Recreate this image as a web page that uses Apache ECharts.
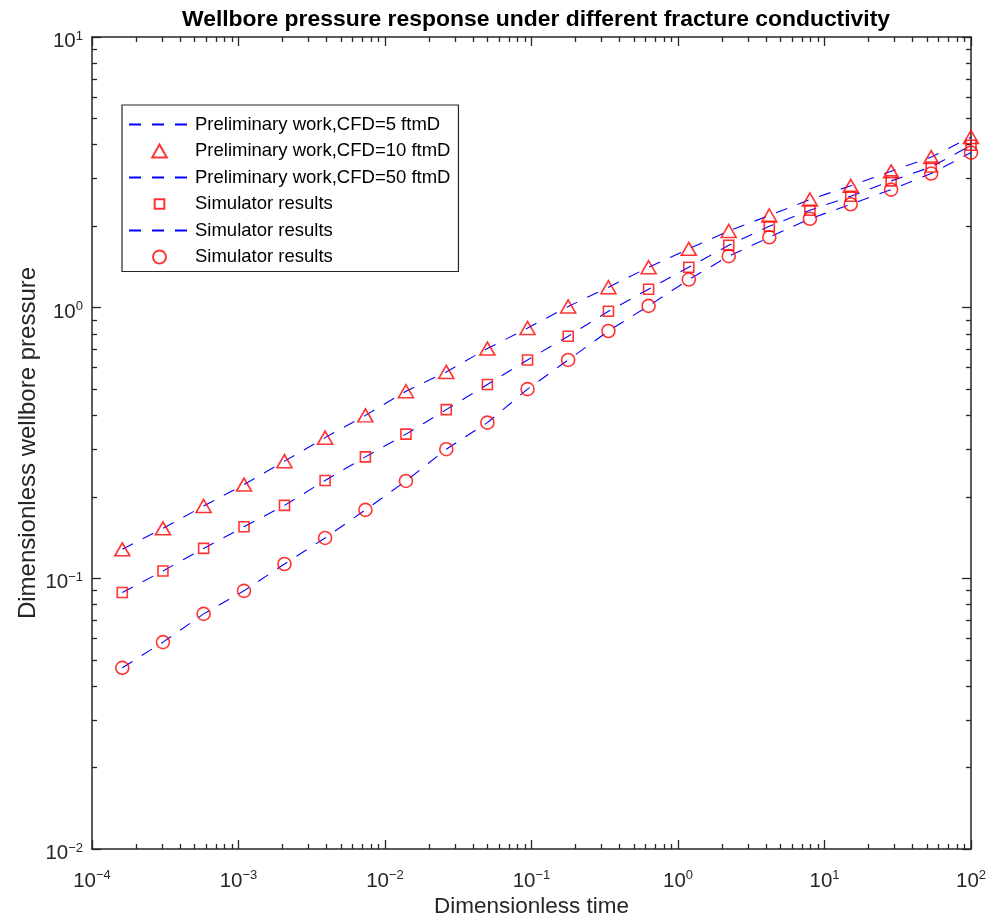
<!DOCTYPE html>
<html lang="en">
<head>
    <meta charset="UTF-8">
    <title>Wellbore pressure response</title>
    <script src="https://cdn.jsdelivr.net/npm/echarts@6/dist/echarts.min.js"></script>
    <style>
        html, body { margin: 0; padding: 0; background: #fff; }
        #chart { width: 989px; height: 919px; }
    </style>
</head>
<body>
    <div id="chart"></div>
    <script>
        // dimensionless time (shared by all curves)
        var timeValues = [1.61e-4, 3.05e-4, 5.78e-4, 1.09e-3, 2.06e-3, 3.9e-3, 7.35e-3, 0.0139, 0.0262, 0.0500, 0.0940,
            0.178, 0.335, 0.630, 1.185, 2.22, 4.20, 7.95, 15.1, 28.5, 53.5, 100];
        // dimensionless wellbore pressure
        var pressTri = [0.128, 0.153, 0.185, 0.222, 0.271, 0.331, 0.400, 0.491, 0.579, 0.706, 0.841,
            1.01, 1.19, 1.41, 1.65, 1.92, 2.19, 2.51, 2.82, 3.19, 3.60, 4.27];
        var pressSq = [0.0886, 0.1065, 0.129, 0.155, 0.186, 0.230, 0.281, 0.341, 0.420, 0.520, 0.641,
            0.784, 0.970, 1.17, 1.41, 1.70, 2.00, 2.29, 2.58, 2.94, 3.31, 3.98];
        var pressCirc = [0.0467, 0.0581, 0.0739, 0.0899, 0.113, 0.141, 0.179, 0.229, 0.300, 0.376, 0.500,
            0.641, 0.820, 1.015, 1.27, 1.55, 1.82, 2.13, 2.41, 2.73, 3.13, 3.74];

        var legendNames = {
            l1: 'Preliminary work,CFD=5 ftmD',
            m1: 'Preliminary work,CFD=10 ftmD',
            l2: 'Preliminary work,CFD=50 ftmD',
            m2: 'Simulator results',
            l3: 'Simulator results',
            m3: 'Simulator results'
        };

        var xMinor = [];
        var yMinor = [];
        for (var e = -4; e < 2; e++) {
            for (var k = 2; k <= 9; k++) xMinor.push(k * Math.pow(10, e));
        }
        for (var e = -2; e < 1; e++) {
            for (var k = 2; k <= 9; k++) yMinor.push(k * Math.pow(10, e));
        }

        var font = "'Liberation Sans', Arial, sans-serif";
        var axisColor = '#262626';

        function pairs(ys) {
            return timeValues.map(function (t, i) { return [t, ys[i]]; });
        }

        function supLabel(v) {
            var p = Math.round(Math.log10(v));
            return '{b|10}{s|' + (p < 0 ? '\u2212' + (-p) : p) + '}';
        }

        var richSup = {
            b: { fontSize: 20.5, lineHeight: 24, fontFamily: font, color: axisColor },
            s: { fontSize: 13, lineHeight: 13, verticalAlign: 'top', fontFamily: font, color: axisColor }
        };

        function makeAxis(pos, kind, min, max, minorVals) {
            var ax = {
                type: 'log',
                logBase: 10,
                min: min,
                max: max,
                position: pos,
                splitLine: { show: false },
                axisLine: { show: kind === 'major', lineStyle: { color: axisColor, width: 1.5 } },
                axisTick: { show: true, inside: true, length: kind === 'major' ? 9 : 5,
                    lineStyle: { color: axisColor, width: 1.3 } },
                axisLabel: { show: false }
            };
            if (kind === 'minor') ax.axisTick.customValues = minorVals;
            return ax;
        }

        var xMain = makeAxis('bottom', 'major', 1e-4, 100);
        xMain.axisLabel = { show: true, margin: 20, formatter: supLabel, rich: richSup };
        xMain.name = 'Dimensionless time';
        xMain.nameLocation = 'middle';
        xMain.nameGap = 46;
        xMain.nameMoveOverlap = false;
        xMain.nameTextStyle = { fontSize: 22.5, fontFamily: font, color: axisColor };

        var yMain = makeAxis('left', 'major', 0.01, 10);
        yMain.axisLabel = { show: true, margin: 9, padding: [9, 0, 0, 0], formatter: supLabel, rich: richSup };
        yMain.name = 'Dimensionless wellbore pressure';
        yMain.nameLocation = 'middle';
        yMain.nameGap = 52;
        yMain.nameMoveOverlap = false;
        yMain.nameTextStyle = { fontSize: 24, fontFamily: font, color: axisColor };

        var lineStyle = { color: '#0000ff', width: 1.1, type: [12, 11] };
        var markStyle = { color: 'rgba(255,255,255,0)', borderColor: '#ff0000', borderWidth: 1.6 };

        function lineSeries(name, ys) {
            return {
                name: name, type: 'line', xAxisIndex: 0, yAxisIndex: 0,
                symbol: 'none', lineStyle: lineStyle, itemStyle: { color: '#0000ff' },
                data: pairs(ys), animation: false
            };
        }
        function markSeries(name, ys, symbol, size) {
            return {
                name: name, type: 'scatter', xAxisIndex: 0, yAxisIndex: 0,
                symbol: symbol, symbolSize: size, itemStyle: markStyle,
                data: pairs(ys), animation: false, z: 3
            };
        }

        var hiddenDot = { opacity: 0 };
        var chart = echarts.init(document.getElementById('chart'));
        chart.setOption({
            animation: false,
            backgroundColor: '#fff',
            title: {
                text: 'Wellbore pressure response under different fracture conductivity',
                left: 531, textAlign: 'center', top: 3,
                textStyle: { fontSize: 22.9, fontWeight: 'bold', fontFamily: font, color: '#000' }
            },
            grid: { left: 92, right: 18, top: 37, bottom: 70, outerBoundsMode: 'none' },
            xAxis: [
                xMain,
                makeAxis('bottom', 'minor', 1e-4, 100, xMinor),
                makeAxis('top', 'major', 1e-4, 100),
                makeAxis('top', 'minor', 1e-4, 100, xMinor)
            ],
            yAxis: [
                yMain,
                makeAxis('left', 'minor', 0.01, 10, yMinor),
                makeAxis('right', 'major', 0.01, 10),
                makeAxis('right', 'minor', 0.01, 10, yMinor)
            ],
            legend: {
                orient: 'vertical',
                left: 122, top: 105,
                padding: [10, 8, 5, 6],
                backgroundColor: '#fff',
                borderColor: axisColor,
                borderWidth: 1.2,
                borderRadius: 0,
                itemWidth: 61,
                itemHeight: 13,
                itemGap: 7.5,
                symbolKeepAspect: true,
                data: [
                    { name: 'l1', itemStyle: hiddenDot },
                    { name: 'm1', icon: 'path://M7,0.3L13.7,12.2L0.3,12.2Z' },
                    { name: 'l2', itemStyle: hiddenDot },
                    { name: 'm2', icon: 'path://M0,0M14,14M1.8,1.8H12.2V12.2H1.8Z' },
                    { name: 'l3', itemStyle: hiddenDot },
                    { name: 'm3', icon: 'circle' }
                ],
                formatter: function (n) { return legendNames[n]; },
                textStyle: { fontSize: 18.5, lineHeight: 18.5, fontFamily: font, color: '#000' }
            },
            series: [
                lineSeries('l1', pressTri),
                lineSeries('l2', pressSq),
                lineSeries('l3', pressCirc),
                markSeries('m1', pressTri, 'triangle', [15, 13]),
                markSeries('m2', pressSq, 'rect', 10),
                markSeries('m3', pressCirc, 'circle', 13)
            ]
        });
    </script>
</body>
</html>
